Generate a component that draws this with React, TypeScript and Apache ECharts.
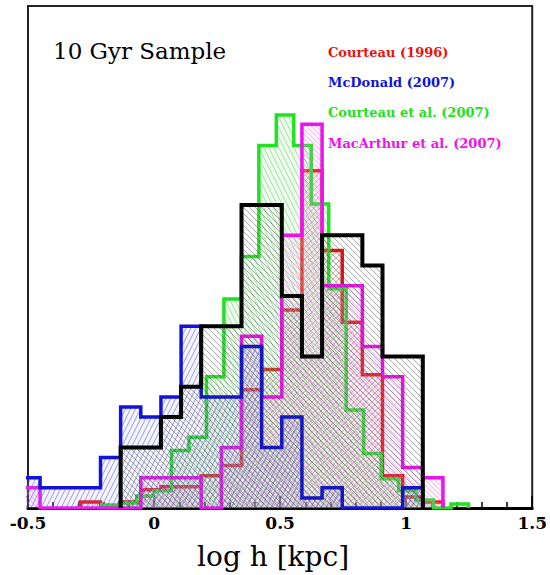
import React, { useEffect, useRef } from "react";
import * as echarts from "echarts";

// x axis (log h [kpc])
const xMin = -0.5;
const xMax = 1.5;
const xInterval = 0.5;
const yMax = 49.7;

// common bin grid (black, blue, magenta, red)
const mainWidth = 0.0799;
const blueStart = -0.532;
const blueCounts = [3, 2, 2, 2, 5, 10, 9, 11, 18, 11, 11, 16, 6, 9, 1, 2, 0, 0, 0, 2];
const blackStart = -0.1325;
const blackCounts = [6, 6, 9, 12, 18, 18, 30, 30, 21, 15, 27, 27, 24, 15, 15];
const magentaStart = -0.532;
const magentaCounts = [2, 0, 0, 0, 0, 0, 3, 3, 3, 0, 6, 17, 11, 27, 38, 22, 22, 16, 13, 4, 3];
const redStart = -0.2923;
const redCounts = [0.6, 0, 0.6, 1.8, 2.1, 2.1, 3.2, 4.2, 11.7, 13.7, 19.6, 33.4, 25.5, 18.4, 13.2, 3.2, 1.1, 0.6];
// Courteau et al. (2007) has its own bins
const greenStart = -0.208;
const greenWidth = 0.0693;
const greenCounts = [0.3, 0.5, 1.2, 1.7, 5.7, 7.0, 13.0, 20.7, 24.9, 35.9, 38.9, 35.9, 30.1, 21.7, 9.7, 5.4, 2.9, 1.7, 0.8, 0, 0.4];

const sampleLabel = "10 Gyr Sample";
const legendNames = ["Courteau (1996)", "McDonald (2007)", "Courteau et al. (2007)", "MacArthur et al. (2007)"];
const legendColors = ["#ee1111", "#1212d8", "#22e022", "#ee11ee"];

function stepData(start: number, width: number, counts: number[]) {
  const pts: number[][] = [[start, 0]];
  counts.forEach((c, i) => pts.push([start + i * width, c]));
  const end = start + counts.length * width;
  pts.push([end, counts[counts.length - 1]]);
  pts.push([end, 0]);
  return pts;
}

function hatch(color: string, w: number, h: number, dir: "back" | "fwd", sw: number, bg: string) {
  const d =
    dir === "back"
      ? `M${-w},0L0,${h}M0,0L${w},${h}M${w},0L${2 * w},${h}`
      : `M${-w},${h}L0,0M0,${h}L${w},0M${w},${h}L${2 * w},0`;
  const svg = `<svg xmlns='http://www.w3.org/2000/svg' width='${w}' height='${h}'><rect width='${w}' height='${h}' fill='${bg}'/><path d='${d}' stroke='${color}' stroke-width='${sw}' fill='none'/></svg>`;
  return {
    image: "data:image/svg+xml;charset=utf-8," + encodeURIComponent(svg),
    repeat: "repeat",
    imageWidth: w,
    imageHeight: h,
  } as any;
}

export default function App() {
  const ref = useRef<HTMLDivElement>(null);
  useEffect(() => {
    if (!ref.current) return;
    const chart = echarts.init(ref.current, undefined, { renderer: "svg" });

    const mk = (name: string, data: number[][], color: string, width: number, fill: any, z: number) => ({
      type: "line",
      name,
      data,
      step: "end",
      showSymbol: false,
      symbol: "none",
      z,
      lineStyle: { color, width, join: "miter" },
      areaStyle: { color: fill, opacity: 1 },
      clip: true,
    });

    const series = [
      mk("Courteau (1996)", stepData(redStart, mainWidth, redCounts), "#ee1111", 3.5,
        hatch("rgba(225,70,70,0.6)", 6, 6, "fwd", 0.8, "rgba(255,160,160,0.12)"), 2),
      mk("Courteau et al. (2007)", stepData(greenStart, greenWidth, greenCounts), "#22e022", 3.5,
        hatch("rgba(80,200,80,0.65)", 5, 10, "back", 0.8, "rgba(150,235,150,0.14)"), 3),
      mk("MacArthur et al. (2007)", stepData(magentaStart, mainWidth, magentaCounts), "#ee11ee", 3.5,
        hatch("rgba(225,90,225,0.6)", 5, 5, "back", 0.7, "rgba(250,170,250,0.12)"), 4),
      mk("McDonald (2007)", stepData(blueStart, mainWidth, blueCounts), "#1212d8", 3.5,
        hatch("rgba(70,70,200,0.65)", 5, 10, "fwd", 0.8, "rgba(170,170,240,0.12)"), 5),
      mk("10 Gyr total", stepData(blackStart, mainWidth, blackCounts), "#000000", 4,
        hatch("rgba(50,50,50,0.6)", 6, 6, "back", 0.7, "rgba(0,0,0,0)"), 6),
    ];

    const graphic: any[] = [
      {
        type: "text",
        x: 53,
        y: 51,
        z: 20,
        style: { text: sampleLabel, font: '23px "DejaVu Serif"', fill: "#000", verticalAlign: "middle" },
      },
      ...legendNames.map((t, i) => ({
        type: "text",
        x: 328,
        y: 52.5 + i * 30.2,
        z: 20,
        style: { text: t, font: 'bold 13px "DejaVu Serif"', fill: legendColors[i], verticalAlign: "middle" },
      })),
    ];

    chart.setOption({
      animation: false,
      backgroundColor: "#ffffff",
      grid: {
        left: 28,
        right: 14,
        top: 6,
        bottom: 62,
        show: true,
        borderColor: "#222",
        borderWidth: 2,
        backgroundColor: "transparent",
      },
      xAxis: {
        type: "value",
        min: xMin,
        max: xMax,
        interval: xInterval,
        name: "log h [kpc]",
        nameLocation: "middle",
        nameGap: 34,
        nameTextStyle: {
          fontFamily: "DejaVu Serif",
          fontSize: 28,
          color: "#000",
          padding: [0, 14, 0, 0],
        },
        axisLine: { show: true, onZero: false, lineStyle: { color: "#000", width: 3 } },
        axisTick: { show: true, inside: true, length: 12, lineStyle: { color: "#000", width: 1.5 } },
        minorTick: { show: true, splitNumber: 5, length: 6, lineStyle: { color: "#000", width: 1.5 } },
        axisLabel: {
          fontFamily: "DejaVu Serif",
          fontWeight: "bold",
          fontSize: 17,
          color: "#000",
          margin: 6,
        },
        splitLine: { show: false },
      },
      yAxis: {
        type: "value",
        min: 0,
        max: yMax,
        axisLine: { show: false },
        axisTick: { show: false },
        axisLabel: { show: false },
        splitLine: { show: false },
      },
      series,
      graphic,
    });
    return () => chart.dispose();
  }, []);
  return <div ref={ref} style={{ width: 550, height: 575, position: "absolute", left: 0, top: 0 }} />;
}
